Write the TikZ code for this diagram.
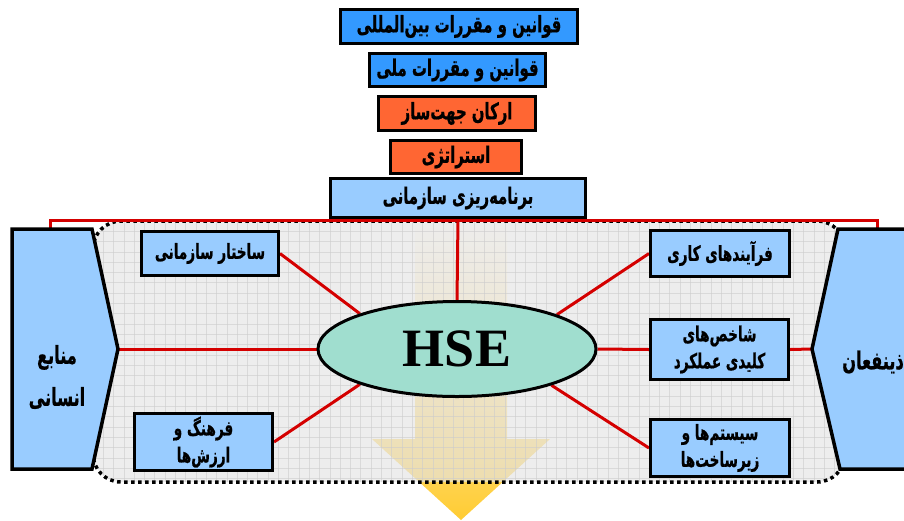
\documentclass[tikz,border=0pt]{standalone}
\usepackage{fontspec}
\usetikzlibrary{shapes.geometric}
\TeXXeTstate=1
\newfontfamily\fafont[Script=Arabic, FakeStretch=0.85, BoldFeatures={FakeBold=0.8}]{DejaVu Sans}
\newfontfamily\hsefont{Liberation Serif}
% a right-to-left line, set a little taller than the font draws it
\newcommand\rl[1]{\scalebox{1}[1.3]{\beginR #1\endR}}

\definecolor{lawblue}{HTML}{3399FF}
\definecolor{orgred}{HTML}{FF6633}
\definecolor{paleblue}{HTML}{99CCFF}
\definecolor{mint}{HTML}{A0DECF}
\definecolor{linkred}{HTML}{D40000}
\definecolor{arrowyellow}{HTML}{FFCC33}
\definecolor{panelgray}{HTML}{E4E4E4}
\definecolor{gridgray}{HTML}{CCCCCC}

\pgfdeclarelayer{arrowlayer}
\pgfdeclarelayer{panellayer}
\pgfdeclarelayer{linklayer}
\pgfsetlayers{arrowlayer,panellayer,linklayer,main}

\tikzset{
  fabox/.style={draw=black, line width=3pt, inner sep=0pt, align=center,
    font=\fafont\bfseries\fontsize{17.5}{27}\selectfont},
  lawbox/.style={fabox, fill=lawblue},
  corebox/.style={fabox, fill=orgred},
  factorbox/.style={fabox, fill=paleblue, font=\fafont\bfseries\fontsize{16}{27}\selectfont},
  planbox/.style={fabox, fill=paleblue},
  link/.style={draw=linkred, line width=3pt},
  wing/.style={draw=black, line width=3.5pt, fill=paleblue, line join=miter},
  wingtext/.style={align=center, inner sep=0pt,
    font=\fafont\bfseries\fontsize{19}{42}\selectfont},
}

\begin{document}
\begin{tikzpicture}[x=1pt, y=-1pt]
\useasboundingbox (0,0) rectangle (904,520);

% stacked guiding layers
\node[lawbox, minimum width=237pt, minimum height=34pt] (intl) at (459,26.5) {\rl{قوانین و مقررات بین^^^^200cالمللی}};
\node[lawbox, minimum width=176pt, minimum height=33pt] (natl) at (457.5,70) {\rl{قوانین و مقررات ملی}};
\node[corebox, minimum width=157pt, minimum height=34pt] (guide) at (457,113.5) {\rl{ارکان جهت^^^^200cساز}};
\node[corebox, minimum width=131pt, minimum height=33pt] (strat) at (456,157) {\rl{استراتژی}};
\node[planbox, minimum width=255pt, minimum height=39pt] (plan) at (458,198) {\rl{برنامه^^^^200cریزی سازمانی}};

% organisational factors
\node[factorbox, minimum width=137pt, minimum height=44pt] (struct) at (210,253.5) {\rl{ساختار سازمانی}};
\node[factorbox, minimum width=138pt, minimum height=57pt] (culture) at (203.5,442) {\rl{فرهنگ و}\\\rl{ارزش^^^^200cها}};
\node[factorbox, minimum width=139pt, minimum height=46pt] (process) at (720,253.5) {\rl{فرآیندهای کاری}};
\node[factorbox, minimum width=138pt, minimum height=60pt] (kpi) at (719.5,349.5) {\rl{شاخص^^^^200cهای}\\\rl{کلیدی عملکرد}};
\node[factorbox, minimum width=139pt, minimum height=57pt] (infra) at (720,448) {\rl{سیستم^^^^200cها و}\\\rl{زیرساخت^^^^200cها}};

% central ellipse
\node[ellipse, draw=black, line width=3pt, fill=mint, minimum width=278pt, minimum height=95pt, inner sep=0pt,
      font=\hsefont\bfseries\fontsize{54}{54}\selectfont] (hse) at (457,349) {\raisebox{-3pt}{HSE}};

% side wings
\draw[wing] (12,229) -- (92,229) -- (118,349) -- (92,469) -- (12,469) -- cycle;
\draw[wing] (915,229) -- (838,229) -- (812,349) -- (840,469) -- (915,469);
\coordinate (hrtop) at (50,229);
\coordinate (hrtip) at (118,349);
\coordinate (shtop) at (877,229);
\coordinate (shtip) at (812,349);
\node[wingtext] (hr) at (57,377) {\rl{منابع}\\\rl{انسانی}};
\node[wingtext] (sh) at (873,362) {\rl{ذینفعان}};

% downward arrow, faded towards the top
\begin{pgfonlayer}{arrowlayer}
  \shade[top color=white, bottom color=arrowyellow]
    (415,219) -- (507,219) -- (507,439) -- (550,439) -- (461,520) -- (372,439) -- (415,439) -- cycle;
\end{pgfonlayer}

% gridded panel
\begin{pgfonlayer}{panellayer}
  \begin{scope}
    \clip[rounded corners=28pt] (93,221) rectangle (845,482);
    \fill[panelgray, fill opacity=0.65] (90,215) rectangle (850,490);
    \foreach \i in {0,...,74} {
      \draw[gridgray, line width=0.8pt, opacity=0.6] (93+\i*10.3,215) -- (93+\i*10.3,490);
    }
    \foreach \j in {0,...,26} {
      \draw[gridgray, line width=0.8pt, opacity=0.6] (90,221+\j*10.3) -- (850,221+\j*10.3);
    }
  \end{scope}
  \draw[line width=3.5pt, dash pattern=on 3.5pt off 3.5pt, rounded corners=28pt] (93,221) rectangle (845,482);
\end{pgfonlayer}

% red connectors
\begin{pgfonlayer}{linklayer}
  \draw[link] (hrtop) -- ++(0,-9) -| (shtop);
  \draw[link] (plan.south) -- (hse.north);
  \draw[link] (struct.east) -- (hse.160);
  \draw[link] (culture.east) -- (hse.200);
  \draw[link] (process.west) -- (hse.19);
  \draw[link] (infra.west) -- (hse.-21);
  \draw[link] (hrtip) -- (hse.west);
  \draw[link] (hse.east) -- (kpi.west);
  \draw[link] (kpi.east) -- (shtip);
\end{pgfonlayer}
\end{tikzpicture}
\end{document}
